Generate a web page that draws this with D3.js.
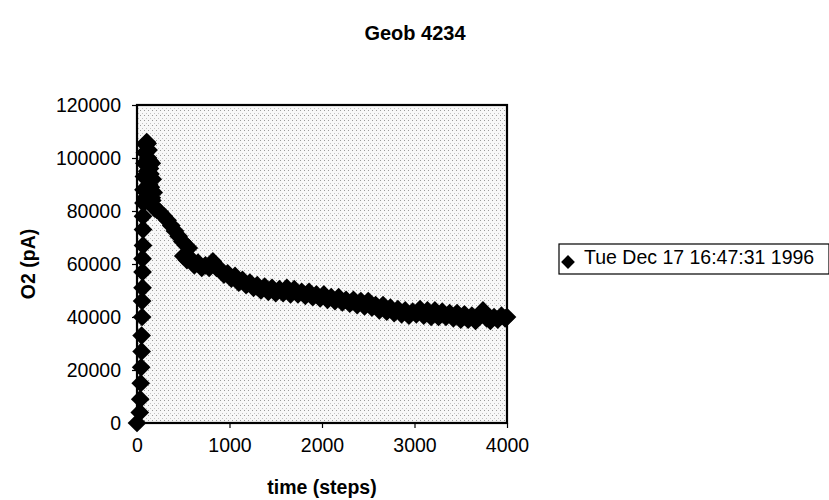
<!DOCTYPE html>
<html>
<head>
<meta charset="utf-8">
<script src="https://cdn.jsdelivr.net/npm/d3@7"></script>
<style>
  html, body { margin: 0; padding: 0; background: #fff; }
  svg { display: block; font-family: "Liberation Sans", Arial, sans-serif; }
</style>
</head>
<body>
<svg id="chart" width="829" height="500"></svg>
<script>
// ---- data ----
const chartTitle = "Geob 4234";
const xTitle = "time (steps)";
const yTitle = "O2 (pA)";
const seriesName = "Tue Dec 17 16:47:31 1996";
const xTicks = [0, 1000, 2000, 3000, 4000];
const yTicks = [0, 20000, 40000, 60000, 80000, 100000, 120000];

const timeSteps = [
  0, 30, 35, 40, 45, 50, 50, 55, 55, 60, 60, 60, 65, 65, 65, 70,
  70, 75, 80, 85, 95, 105, 115, 125, 135, 145, 150, 160, 175, 190,
  90, 110, 130, 160, 170, 180, 120, 140, 150, 165,
  216, 250, 290, 330, 370, 410, 450, 490, 530, 560,
  500, 540, 580, 620, 660, 700, 740, 780, 820, 860, 900, 940, 980,
  1020, 1060, 1100, 1140, 1180, 1220, 1260, 1300, 1340, 1380, 1420, 1460,
  1500, 1540, 1580, 1620, 1660, 1700, 1740, 1780, 1820, 1860, 1900, 1940,
  1980, 2020, 2060, 2100, 2140, 2180, 2220, 2260, 2300, 2340, 2380, 2420,
  2460, 2500, 2540, 2580, 2620, 2660, 2700, 2740, 2780, 2820, 2860, 2900,
  2940, 2980, 3020, 3060, 3100, 3140, 3180, 3220, 3260, 3300, 3340, 3380,
  3420, 3460, 3500, 3540, 3580, 3620, 3660, 3700, 3740, 3780, 3820, 3860,
  3900, 3940, 3980, 4000
];
const o2 = [
  0, 4000, 9000, 15000, 21000, 27000, 33000, 40000, 46000, 51000, 57000, 62000, 67000, 73000, 78000, 83000,
  88000, 93000, 98000, 102000, 105000, 106000, 105500, 103000, 99000, 94000, 89000, 85000, 82000, 81000,
  85000, 95000, 90000, 98000, 92000, 87000, 100000, 96000, 92000, 84000,
  80400, 79500, 78000, 76500, 74500, 72500, 70500, 68500, 67000, 66000,
  63000, 61500, 62000, 59500, 60500, 58500, 59500, 58500, 61000, 58500, 58000, 56000, 56500,
  54500, 55500, 53000, 54000, 52000, 53000, 51000, 52000, 50000, 51500, 49500, 51000,
  49000, 50500, 49000, 51000, 48500, 50500, 48500, 49500, 48000, 49500, 47500, 48500,
  47000, 48500, 46500, 47500, 46000, 47500, 45500, 46500, 45000, 46500, 44500, 46000,
  44000, 46000, 43500, 44500, 42500, 44500, 42000, 43500, 41500, 43000, 41000, 42500,
  40500, 42000, 41000, 43000, 40500, 42500, 40000, 42500, 40000, 42000, 40000, 41500,
  39500, 41500, 39000, 41000, 39000, 40500, 38500, 40500, 42500, 39500, 38500, 40000,
  39000, 40500, 39500, 40000
];

// ---- layout ----
const svg = d3.select("#chart");
const plot = { left: 137, top: 105, right: 507, bottom: 423 };

const x = d3.scaleLinear().domain([0, 4000]).range([plot.left, plot.right]);
const y = d3.scaleLinear().domain([0, 120000]).range([plot.bottom, plot.top]);

// stippled light background
const defs = svg.append("defs");
const pat = defs.append("pattern").attr("id", "stipple")
  .attr("patternUnits", "userSpaceOnUse").attr("width", 4).attr("height", 5);
pat.append("rect").attr("width", 4).attr("height", 5).attr("fill", "#f8f8f8");
pat.append("rect").attr("x", 0).attr("y", 0).attr("width", 1).attr("height", 1).attr("fill", "#9a9a9a");
pat.append("rect").attr("x", 2).attr("y", 3).attr("width", 1).attr("height", 1).attr("fill", "#c4c4c4");

svg.append("rect")
  .attr("x", plot.left).attr("y", plot.top)
  .attr("width", plot.right - plot.left).attr("height", plot.bottom - plot.top)
  .attr("fill", "url(#stipple)");

// axes
const xAxis = d3.axisBottom(x).tickValues(xTicks).tickSize(5).tickPadding(10).tickFormat(d3.format("d"));
const yAxis = d3.axisLeft(y).tickValues(yTicks).tickSize(5).tickPadding(11).tickFormat(d3.format("d"));

const gx = svg.append("g").attr("transform", `translate(0,${plot.bottom})`).call(xAxis);
const gy = svg.append("g").attr("transform", `translate(${plot.left},0)`).call(yAxis);
[gx, gy].forEach(g => {
  g.select(".domain").remove();
  g.selectAll(".tick line").attr("stroke", "#000").attr("stroke-width", 1.2);
  g.selectAll(".tick text").attr("fill", "#000")
    .style("font-family", "'Liberation Sans', Arial, sans-serif").style("font-size", "19.5px");
});

// plot frame
svg.append("rect")
  .attr("x", plot.left).attr("y", plot.top)
  .attr("width", plot.right - plot.left).attr("height", plot.bottom - plot.top)
  .attr("fill", "none").attr("stroke", "#000").attr("stroke-width", 2.2);

// markers
const data = timeSteps.map((t, i) => ({ t, v: o2[i] }));
const diamond = d3.symbol().type(d3.symbolSquare).size(175);
svg.append("g").selectAll("path").data(data).join("path")
  .attr("d", diamond)
  .attr("transform", d => `translate(${x(d.t)},${y(d.v)}) rotate(45)`)
  .attr("fill", "#000");

// titles
svg.append("text").attr("x", 415).attr("y", 40).attr("text-anchor", "middle")
  .style("font-weight", "bold").style("font-size", "20px").text(chartTitle);
svg.append("text").attr("x", (plot.left + plot.right) / 2).attr("y", 494).attr("text-anchor", "middle")
  .style("font-weight", "bold").style("font-size", "19.5px").text(xTitle);
svg.append("text").attr("transform", `translate(35,${(plot.top + plot.bottom) / 2}) rotate(-90)`)
  .attr("text-anchor", "middle")
  .style("font-weight", "bold").style("font-size", "19.5px").text(yTitle);

// legend
const lg = svg.append("g");
lg.append("rect").attr("x", 559).attr("y", 244).attr("width", 270).attr("height", 30)
  .attr("fill", "#fff").attr("stroke", "#000").attr("stroke-width", 1.2);
lg.append("path").attr("d", d3.symbol().type(d3.symbolSquare).size(95))
  .attr("transform", "translate(568,262) rotate(45)").attr("fill", "#000");
lg.append("text").attr("x", 584).attr("y", 264)
  .style("font-size", "19.5px").text(seriesName);
</script>
</body>
</html>
